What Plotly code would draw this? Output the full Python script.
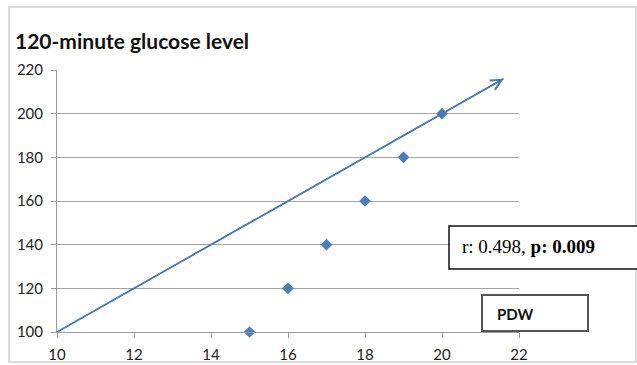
import plotly.graph_objects as go

# Data
pdw = [15, 16, 17, 18, 19, 20]
glucose = [100, 120, 140, 160, 180, 200]
trend_x = [10, 21.6]
trend_y = [100, 216]
x_ticks = [10, 12, 14, 16, 18, 20, 22]
y_ticks = [100, 120, 140, 160, 180, 200, 220]
title_text = "120-minute glucose level"
stat_text = "r: 0.498, <b>p: 0.009</b>"
axis_label = "PDW"

W, H = 637, 365
def px(x):
    return x / W
def py(y):
    return 1 - y / H

LINE_COLOR = "#4a79ae"

fig = go.Figure()

fig.add_trace(go.Scatter(
    x=trend_x, y=trend_y, mode="lines",
    line=dict(color=LINE_COLOR, width=1.5),
    hoverinfo="skip", showlegend=False, cliponaxis=False,
))
fig.add_trace(go.Scatter(
    x=pdw, y=glucose, mode="markers",
    marker=dict(symbol="diamond", size=9, color="#4a7ebb"),
    showlegend=False, cliponaxis=False,
))

annotations = [
    dict(x=trend_x[1], y=trend_y[1], ax=trend_x[0], ay=trend_y[0],
         xref="x", yref="y", axref="x", ayref="y",
         showarrow=True, arrowhead=5, arrowsize=1.4, arrowwidth=1.5,
         arrowcolor=LINE_COLOR, text=""),
    dict(text=f"<b>{title_text}</b>", xref="paper", yref="paper",
         x=px(13), y=py(41), xanchor="left", yanchor="middle",
         showarrow=False, font=dict(family="Lato", size=21, color="#111")),
    dict(text=stat_text, xref="paper", yref="paper",
         x=px(460), y=py(246), xanchor="left", yanchor="middle",
         showarrow=False, font=dict(family="Liberation Serif", size=19, color="#000")),
    dict(text=f"<b>{axis_label}</b>", xref="paper", yref="paper",
         x=px(495), y=py(314), xanchor="left", yanchor="middle",
         showarrow=False, font=dict(family="Lato", size=15, color="#111")),
]

fig.update_layout(
    template="none",
    width=W, height=H,
    margin=dict(l=0, r=0, t=0, b=0, pad=0),
    paper_bgcolor="white", plot_bgcolor="white",
    xaxis=dict(
        domain=[px(57), px(519)], range=[10, 22], automargin=False,
        tickvals=x_ticks, ticktext=[str(v) for v in x_ticks],
        showgrid=False, zeroline=False,
        showline=True, linecolor="#9a9a9a", linewidth=1,
        ticks="outside", ticklen=5, tickcolor="#9a9a9a",
        ticklabelstandoff=4,
        tickfont=dict(family="Lato", size=15, color="#222"),
        fixedrange=True,
    ),
    yaxis=dict(
        domain=[py(332), py(70)], range=[100, 220], automargin=False,
        tickvals=y_ticks, ticktext=[str(v) for v in y_ticks],
        showgrid=True, gridcolor="#a6a6a6", gridwidth=1,
        zeroline=False,
        showline=True, linecolor="#9a9a9a", linewidth=1,
        ticks="outside", ticklen=5, tickcolor="#9a9a9a",
        ticklabelstandoff=5,
        tickfont=dict(family="Lato", size=15, color="#222"),
        fixedrange=True,
    ),
    shapes=[
        dict(type="rect", xref="paper", yref="paper",
             x0=px(9), x1=px(636), y0=py(362), y1=py(7),
             line=dict(color="#d0d0d0", width=1.5)),
        dict(type="rect", xref="paper", yref="paper",
             x0=px(449), x1=px(660), y0=py(269), y1=py(226),
             line=dict(color="#111", width=1.5), fillcolor="white"),
        dict(type="rect", xref="paper", yref="paper",
             x0=px(482), x1=px(588), y0=py(331), y1=py(295),
             line=dict(color="#555", width=2), fillcolor="white"),
    ],
    annotations=annotations,
)

fig.write_html(
    "out.html",
    config={"displayModeBar": False},
    post_script="document.body.style.margin='0';document.body.style.overflow='hidden';",
)
